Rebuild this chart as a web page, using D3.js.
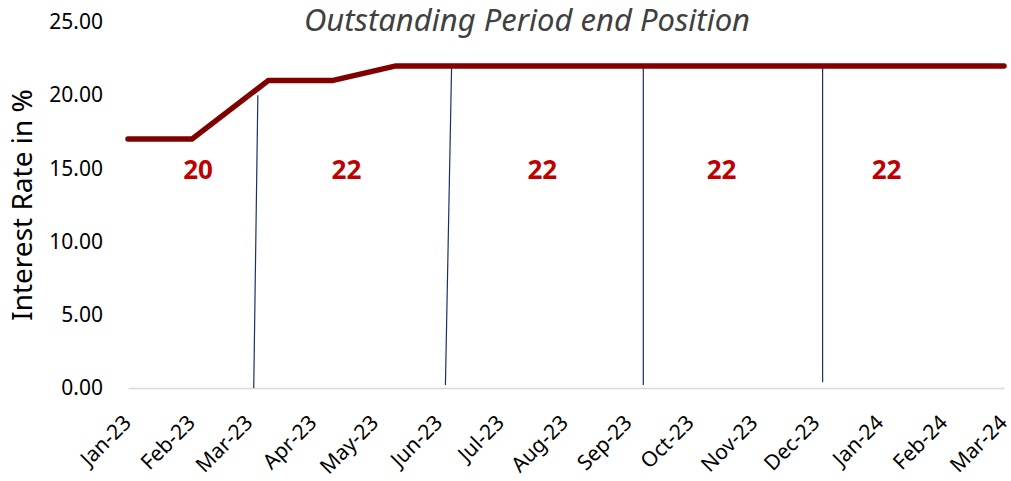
<!DOCTYPE html>
<html>
<head>
<meta charset="utf-8">
<script src="https://cdn.jsdelivr.net/npm/d3@7"></script>
<style>
  body { margin: 0; background: #fff; }
  text { font-family: "Segoe UI", "Noto Sans", "Open Sans", sans-serif; }
</style>
</head>
<body>
<svg id="chart"></svg>
<script>
// Data
const parse = d3.timeParse("%Y-%m-%d");
const rateDates = ["2023-01-01", "2023-02-01", "2023-03-10", "2023-04-10", "2023-05-11", "2024-03-01"];
const rateValues = [17, 17, 21, 21, 22, 22];

// thin marker lines: start date/value -> end date/value
const markerStart = ["2023-03-03", "2023-06-04", "2023-09-08", "2023-12-04"];
const markerStartVal = [0, 0.2, 0.2, 0.4];
const markerEnd = ["2023-03-05", "2023-06-07", "2023-09-08", "2023-12-04"];
const markerEndVal = [20, 22, 22, 22];

const labelDates = ["2023-02-04", "2023-04-17", "2023-07-21", "2023-10-16", "2024-01-04"];
const labelText = ["20", "22", "22", "22", "22"];
const labelVal = 14.9;

const yTicks = [0, 5, 10, 15, 20, 25];

const width = 1011;
const height = 481;
const margin = { left: 128, right: 7, top: 22, bottom: 93 };

const svg = d3.select("#chart").attr("width", width).attr("height", height);

// Scales
const x = d3.scaleTime()
  .domain([parse("2023-01-01"), parse("2024-03-01")])
  .range([margin.left, width - margin.right]);
const y = d3.scaleLinear().domain([0, 25]).range([height - margin.bottom, margin.top]);

// Y axis (labels only)
const yAxis = d3.axisLeft(y).tickValues(yTicks).tickFormat(d3.format(".2f")).tickSize(0).tickPadding(25);
svg.append("g")
  .attr("transform", `translate(${margin.left},0)`)
  .call(yAxis)
  .call(g => g.select(".domain").remove())
  .selectAll("text")
  .attr("font-size", 21)
  .attr("fill", "#000")
  .style("font-family", "'Segoe UI', 'Noto Sans', sans-serif");

// X axis
const xAxis = d3.axisBottom(x).ticks(d3.timeMonth.every(1)).tickFormat(d3.timeFormat("%b-%y")).tickSize(0);
const xg = svg.append("g")
  .attr("transform", `translate(0,${y(0)})`)
  .call(xAxis);
xg.select(".domain").attr("stroke", "#d9d9d9").attr("stroke-width", 1.5);
xg.selectAll("text")
  .attr("font-size", 21)
  .attr("fill", "#000")
  .style("font-family", "'Segoe UI', 'Noto Sans', sans-serif")
  .attr("text-anchor", "end")
  .attr("x", 0).attr("y", 0).attr("dy", 0)
  .attr("transform", "translate(4,36) rotate(-45)");

// Marker lines
const markers = markerStart.map((d, i) => ({
  x0: parse(d), y0: markerStartVal[i], x1: parse(markerEnd[i]), y1: markerEndVal[i]
}));
svg.append("g").selectAll("line").data(markers).join("line")
  .attr("x1", d => x(d.x0)).attr("y1", d => y(d.y0))
  .attr("x2", d => x(d.x1)).attr("y2", d => y(d.y1))
  .attr("stroke", "#1a2f6e").attr("stroke-width", 1.2);

// Rate line
const rates = rateDates.map((d, i) => ({ date: parse(d), value: rateValues[i] }));
const line = d3.line().x(d => x(d.date)).y(d => y(d.value));
svg.append("path")
  .datum(rates)
  .attr("d", line)
  .attr("fill", "none")
  .attr("stroke", "#800000")
  .attr("stroke-width", 5.5)
  .attr("stroke-linejoin", "round")
  .attr("stroke-linecap", "round");

// Red value labels
svg.append("g").selectAll("text").data(labelDates).join("text")
  .attr("x", d => x(parse(d)))
  .attr("y", y(labelVal))
  .attr("dy", "0.35em")
  .attr("text-anchor", "middle")
  .attr("font-size", 26)
  .attr("font-weight", "bold")
  .attr("fill", "#c00000")
  .text((d, i) => labelText[i]);

// Title
svg.append("text")
  .attr("x", 527).attr("y", 31)
  .attr("text-anchor", "middle")
  .attr("font-size", 31)
  .attr("font-style", "italic")
  .attr("fill", "#404040")
  .text("Outstanding Period end Position");

// Y axis title
svg.append("text")
  .attr("transform", `translate(32,205) rotate(-90)`)
  .attr("text-anchor", "middle")
  .attr("font-size", 28)
  .attr("fill", "#000")
  .text("Interest Rate in %");
</script>
</body>
</html>
